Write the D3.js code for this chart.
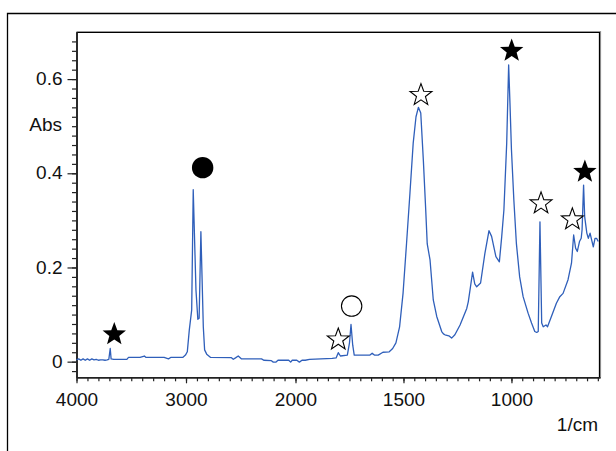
<!DOCTYPE html>
<html>
<head>
    <meta charset="utf-8">
    <title>IR spectrum</title>
    <script src="https://d3js.org/d3.v7.min.js"></script>
    <style>
        body { margin: 0; background: #fff; }
        svg { display: block; font-family: "Liberation Sans", Arial, sans-serif; }
    </style>
</head>
<body>
    <svg id="chart" width="616" height="451"></svg>

    <script>
        // spectrum (wavenumber in 1/cm, absorbance)
        const wavenumber = [
            4000, 3980, 3960, 3940, 3920, 3900, 3880, 3860, 3840, 3820, 3800, 3780, 3760, 3740, 3720,
            3705, 3692, 3684, 3660, 3600, 3540, 3525, 3420, 3380, 3365, 3200, 3160, 3140, 3030, 3005,
            2988, 2970, 2948, 2934, 2909, 2892, 2880, 2864, 2842, 2830, 2811, 2775, 2585, 2568, 2548,
            2523, 2495, 2310, 2290, 2220, 2203, 2180, 2160, 2100, 2080, 2062, 2044, 2030, 2010, 1994,
            1982, 1970, 1955, 1935, 1830, 1812, 1802, 1792, 1760, 1750, 1743, 1735, 1728, 1655, 1645,
            1635, 1617, 1595, 1566, 1550, 1535, 1518, 1502, 1486, 1470, 1455, 1442, 1431, 1420, 1408,
            1397, 1390, 1377, 1362, 1346, 1323, 1315, 1308, 1290, 1277, 1262, 1238, 1207, 1200, 1192,
            1180, 1170, 1161, 1143, 1123, 1104, 1092, 1072, 1056, 1045, 1035, 1022, 1013, 1007, 1000,
            989, 977, 962, 946, 923, 907, 892, 883, 876, 868, 860, 853, 840, 833, 815,
            792, 776, 761, 738, 722, 712, 703, 695, 685, 677, 673, 666, 661, 651, 644,
            636, 629, 621, 613, 606, 598
        ];
        const absorbance = [
            0.004, 0.006, 0.003, 0.006, 0.003, 0.006, 0.003, 0.006, 0.004, 0.005, 0.003, 0.004, 0.004, 0.003, 0.004,
            0.005, 0.028, 0.006, 0.005, 0.005, 0.005, 0.009, 0.009, 0.012, 0.009, 0.009, 0.006, 0.009, 0.009, 0.014,
            0.021, 0.067, 0.110, 0.365, 0.152, 0.090, 0.092, 0.276, 0.074, 0.025, 0.016, 0.009, 0.0085, 0.005, 0.008,
            0.012, 0.006, 0.006, 0.003, 0.002, -0.001, -0.001, 0.003, 0.003, 0.003, 0.003, -0.001, 0.003, 0.003, 0.003,
            -0.001, 0.003, 0.003, 0.005, 0.007, 0.008, 0.019, 0.012, 0.014, 0.040, 0.079, 0.035, 0.014, 0.014, 0.018,
            0.014, 0.014, 0.020, 0.021, 0.028, 0.040, 0.074, 0.145, 0.250, 0.358, 0.464, 0.520, 0.540, 0.528, 0.428,
            0.322, 0.250, 0.216, 0.131, 0.096, 0.064, 0.059, 0.057, 0.055, 0.050, 0.057, 0.078, 0.113, 0.127, 0.152,
            0.190, 0.165, 0.159, 0.167, 0.230, 0.278, 0.266, 0.223, 0.212, 0.266, 0.322, 0.464, 0.630, 0.550, 0.450,
            0.344, 0.250, 0.180, 0.138, 0.103, 0.082, 0.064, 0.062, 0.064, 0.297, 0.082, 0.074, 0.078, 0.074, 0.096,
            0.124, 0.138, 0.145, 0.174, 0.209, 0.269, 0.241, 0.234, 0.255, 0.262, 0.280, 0.375, 0.308, 0.273, 0.262,
            0.273, 0.259, 0.244, 0.262, 0.262, 0.255
        ];

        // peak markers
        const markerType = ["star", "circle", "openStar", "openCircle", "openStar", "star", "openStar", "openStar", "star"];
        const markerWavenumber = [3655, 2848, 1802, 1740, 1419, 999, 863, 718, 660];
        const markerAbs = [0.058, 0.412, 0.047, 0.118, 0.566, 0.660, 0.336, 0.302, 0.403];

        // axis ticks
        const xMajorTicks = [4000, 3000, 2000, 1500, 1000];
        const xMinorTicks = d3.range(4000, 2000, -100).concat(d3.range(2000, 599, -50));
        const yMajorTicks = [0, 0.2, 0.4, 0.6];
        const yMinorTicks = d3.range(-0.02, 0.7, 0.02);

        const plotLeft = 76.5, plotRight = 600, plotTop = 32, plotBottom = 377.3;

        const svg = d3.select("#chart");

        // outer frame (cut off on the right and bottom)
        svg.append("path")
            .attr("d", "M7.5,451 V13.5 H616")
            .attr("fill", "none")
            .attr("stroke", "#000")
            .attr("stroke-width", 1.3);

        // wavenumber scale is stretched 2x below 2000
        const x = d3.scaleLinear()
            .domain([4000, 2000, 590])
            .range([plotLeft, 295.5, plotRight]);

        const y = d3.scaleLinear()
            .domain([-0.0332, 0.70])
            .range([plotBottom, plotTop]);

        // top/right plot frame
        svg.append("path")
            .attr("d", `M${plotLeft},${plotTop} H${plotRight} V${plotBottom}`)
            .attr("fill", "none")
            .attr("stroke", "#999")
            .attr("stroke-width", 2.2);
        svg.append("path")
            .attr("d", `M${plotLeft},${plotTop + 0.5} H${plotRight - 0.5} V${plotBottom}`)
            .attr("fill", "none")
            .attr("stroke", "#000")
            .attr("stroke-width", 1.2);

        // x axis
        svg.append("g")
            .attr("transform", `translate(0,${plotBottom})`)
            .call(d3.axisBottom(x).tickValues(xMinorTicks).tickSize(4).tickSizeOuter(0).tickFormat(""));
        const xAxis = svg.append("g")
            .attr("transform", `translate(0,${plotBottom})`)
            .call(d3.axisBottom(x).tickValues(xMajorTicks).tickSize(6).tickSizeOuter(0).tickPadding(9.5).tickFormat(d3.format("d")));

        // y axis
        svg.append("g")
            .attr("transform", `translate(${plotLeft},0)`)
            .call(d3.axisLeft(y).tickValues(yMinorTicks).tickSize(4.5).tickSizeOuter(0).tickFormat(""));
        const yAxis = svg.append("g")
            .attr("transform", `translate(${plotLeft},0)`)
            .call(d3.axisLeft(y).tickValues(yMajorTicks).tickSize(9).tickSizeOuter(0).tickPadding(5)
                .tickFormat(d => d === 0 ? "0" : d3.format(".1f")(d)));

        svg.selectAll(".domain").attr("stroke", "#222").attr("stroke-width", 1.6);
        svg.selectAll(".tick line").attr("stroke", "#222").attr("stroke-width", 1.2);
        svg.selectAll(".tick text")
            .attr("font-family", "Liberation Sans, Arial, sans-serif")
            .attr("font-size", 19)
            .attr("fill", "#111");
        yAxis.selectAll(".tick text").attr("dy", "0.3em");

        // axis titles
        svg.append("text")
            .attr("x", 62)
            .attr("y", 131)
            .attr("text-anchor", "end")
            .attr("font-size", 19)
            .attr("fill", "#111")
            .text("Abs");
        svg.append("text")
            .attr("x", 598)
            .attr("y", 431)
            .attr("text-anchor", "end")
            .attr("font-size", 19)
            .attr("fill", "#111")
            .text("1/cm");

        // spectrum
        const points = wavenumber.map((w, i) => [w, absorbance[i]]);
        svg.append("path")
            .datum(points)
            .attr("fill", "none")
            .attr("stroke", "#2f5fba")
            .attr("stroke-width", 1.3)
            .attr("stroke-linejoin", "round")
            .attr("d", d3.line().x(d => x(d[0])).y(d => y(d[1])));

        // star path centred on 0,0
        function starPath(R, r) {
            const pts = [];
            for (let i = 0; i < 10; i++) {
                const a = -Math.PI / 2 + i * Math.PI / 5;
                const rad = i % 2 === 0 ? R : r;
                pts.push([rad * Math.cos(a), rad * Math.sin(a)]);
            }
            return "M" + pts.map(p => p[0].toFixed(2) + "," + p[1].toFixed(2)).join("L") + "Z";
        }

        const markers = markerType.map((t, i) => ({ type: t, w: markerWavenumber[i], v: markerAbs[i] }));
        const mg = svg.append("g");
        markers.forEach(m => {
            const cx = x(m.w), cy = y(m.v);
            if (m.type === "star") {
                mg.append("path")
                    .attr("d", starPath(12.3, 5.2))
                    .attr("transform", `translate(${cx},${cy})`)
                    .attr("fill", "#000");
            } else if (m.type === "openStar") {
                mg.append("path")
                    .attr("d", starPath(11.5, 4.7))
                    .attr("transform", `translate(${cx},${cy})`)
                    .attr("fill", "#fff")
                    .attr("stroke", "#000")
                    .attr("stroke-width", 1.1);
            } else if (m.type === "circle") {
                mg.append("circle")
                    .attr("cx", cx).attr("cy", cy).attr("r", 10.7)
                    .attr("fill", "#000");
            } else {
                mg.append("circle")
                    .attr("cx", cx).attr("cy", cy).attr("r", 10.2)
                    .attr("fill", "#fff")
                    .attr("stroke", "#000")
                    .attr("stroke-width", 1.1);
            }
        });
    </script>
</body>
</html>
